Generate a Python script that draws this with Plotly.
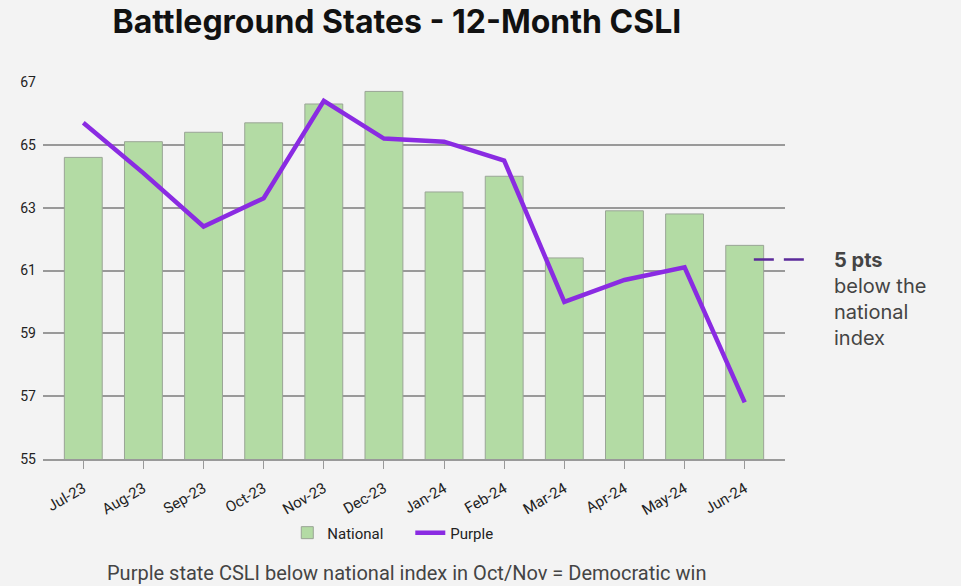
import plotly.graph_objects as go

MONTHS = ['Jul-23', 'Aug-23', 'Sep-23', 'Oct-23', 'Nov-23', 'Dec-23',
          'Jan-24', 'Feb-24', 'Mar-24', 'Apr-24', 'May-24', 'Jun-24']
NATIONAL = [64.6, 65.1, 65.4, 65.7, 66.3, 66.7, 63.5, 64.0, 61.4, 62.9, 62.8, 61.8]
PURPLE = [65.7, 64.1, 62.4, 63.3, 66.4, 65.2, 65.1, 64.5, 60.0, 60.7, 61.1, 56.8]
Y_TICKS = [55, 57, 59, 61, 63, 65, 67]

BG = '#f3f3f3'
BAR = '#b3dba4'
LINE = '#8a2be2'
TEXT = '#222222'

fig = go.Figure()
fig.add_trace(go.Bar(
    x=list(range(len(MONTHS))), y=NATIONAL, name='National',
    marker=dict(color=BAR, line=dict(color='#9aa596', width=1)),
))
fig.add_trace(go.Scatter(
    x=list(range(len(MONTHS))), y=PURPLE, name='Purple', mode='lines',
    line=dict(color=LINE, width=4.5),
))

# dashed callout next to the last bar
fig.add_shape(type='line', xref='paper', yref='y', x0=0.958, x1=1.028, y0=61.35, y1=61.35,
              line=dict(color='#5b2a9a', width=2.5, dash='20px,10px'))
fig.add_annotation(xref='paper', yref='y', x=1.063, y=61.35, xanchor='left', yanchor='top',
                   yshift=14, align='left', showarrow=False,
                   text='<b>5 pts</b><br>below the<br>national<br>index',
                   font=dict(family='Inter, sans-serif', size=20, color='#444444'))
fig.add_annotation(xref='paper', yref='paper', x=0.49, y=-0.303, xanchor='center', yanchor='middle',
                   showarrow=False, text='Purple state CSLI below national index in Oct/Nov = Democratic win',
                   font=dict(family='Roboto, sans-serif', size=20, color='#444444'))

fig.update_layout(
    width=961, height=586,
    margin=dict(l=43, r=176, t=82, b=127),
    paper_bgcolor=BG, plot_bgcolor=BG,
    bargap=0.37,
    font=dict(family='Roboto, sans-serif', size=14, color=TEXT),
    title=dict(text='<b>Battleground States - 12-Month CSLI</b>', x=0.413, xanchor='center',
               y=0.962, yanchor='middle',
               font=dict(family='Inter, sans-serif', size=32, color='#111111')),
    legend=dict(orientation='h', x=0.495, xanchor='center', y=-0.196, yanchor='middle',
                font=dict(size=15, color=TEXT), bgcolor='rgba(0,0,0,0)',
                itemwidth=30, entrywidth=78),
)
fig.update_xaxes(
    tickmode='array', tickvals=list(range(len(MONTHS))), ticktext=MONTHS,
    range=[-0.67, 11.67], tickangle=-30, ticks='outside', ticklen=8, tickcolor='#999999',
    showgrid=False, showline=True, linecolor='#999999', linewidth=2,
    tickfont=dict(size=15, color=TEXT), ticklabelstandoff=5,
)
fig.update_yaxes(
    range=[55, 67], tickvals=Y_TICKS, showgrid=True, gridcolor='#999999', gridwidth=1.5,
    zeroline=False, tickfont=dict(size=14, color=TEXT), ticks='', ticklabelstandoff=6,
)

fig.write_html('out.html', config={'displayModeBar': False},
               post_script="document.body.style.margin='0';")
